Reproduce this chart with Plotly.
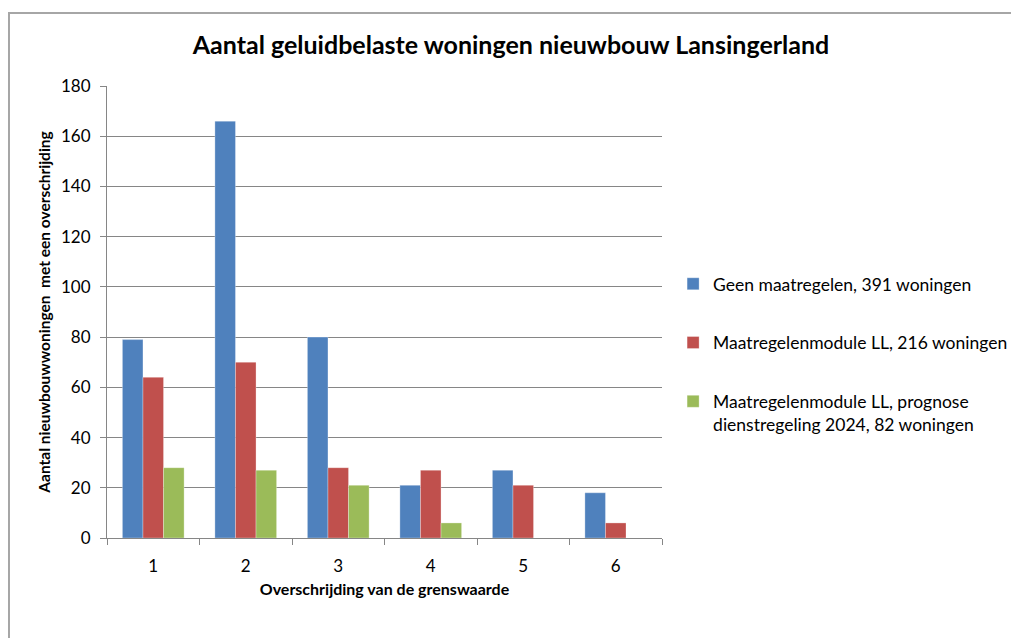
import plotly.graph_objects as go

categories = ["1", "2", "3", "4", "5", "6"]
geen = [79, 166, 80, 21, 27, 18]
module = [64, 70, 28, 27, 21, 6]
prognose = [28, 27, 21, 6, 0, 0]
names = [
    "Geen maatregelen, 391 woningen",
    "Maatregelenmodule LL, 216 woningen",
    "Maatregelenmodule LL, prognose<br>dienstregeling 2024, 82 woningen",
]
colors = ["#4F81BD", "#C0504D", "#9BBB59"]

FONT = "Lato, Calibri, Carlito, sans-serif"
fig = go.Figure()
for i, (vals, name, col) in enumerate(zip([geen, module, prognose], names, colors)):
    fig.add_trace(go.Bar(
        x=categories, y=vals, name=name, legendgroup=f"g{i}",
        marker=dict(color=col, line=dict(color="rgba(255,255,255,0.6)", width=0.5)),
    ))

# page body has an 8px margin; plot area compensated accordingly
fig.update_layout(
    width=1019, height=638,
    barmode="group", bargap=0.333, bargroupgap=0,
    paper_bgcolor="white", plot_bgcolor="white",
    margin=dict(l=99, r=365, t=78, b=108, autoexpand=False),
    font=dict(family=FONT, color="black"),
    title=dict(text="<b>Aantal geluidbelaste woningen nieuwbouw Lansingerland</b>",
               x=503 / 1019, xanchor="center", y=1 - 37 / 638, yanchor="middle",
               font=dict(size=25, family=FONT)),
    legend=dict(x=1.02, xanchor="left", y=0.602, yanchor="top",
                font=dict(size=17.5, family=FONT), tracegroupgap=33,
                itemwidth=30, traceorder="grouped", valign="top",
                bgcolor="rgba(0,0,0,0)"),
    xaxis=dict(
        showline=True, linecolor="#868686", linewidth=1,
        ticks="outside", tickson="boundaries", ticklen=6, tickcolor="#868686",
        tickfont=dict(size=17), showgrid=False, ticklabelstandoff=13,
        automargin=False,
        title=dict(text="<b>Overschrijding van de grenswaarde</b>", font=dict(size=16), standoff=8),
    ),
    yaxis=dict(
        range=[0, 180], dtick=20,
        showline=True, linecolor="#868686", linewidth=1,
        ticks="outside", ticklen=6, tickcolor="#868686",
        showgrid=True, gridcolor="#868686", gridwidth=1,
        zeroline=False, ticklabelstandoff=6, automargin=False,
        tickfont=dict(size=17),
        title=dict(text="<b>Aantal nieuwbouwwoningen  met een overschrijding</b>", font=dict(size=15.5), standoff=6),
    ),
)

fig.add_shape(type="rect", xref="paper", yref="paper",
              x0=-0.1766, x1=1.8, y0=-0.3, y1=1.1615,
              line=dict(color="#A6A6A6", width=2), layer="below")

fig.write_html("out.html")
